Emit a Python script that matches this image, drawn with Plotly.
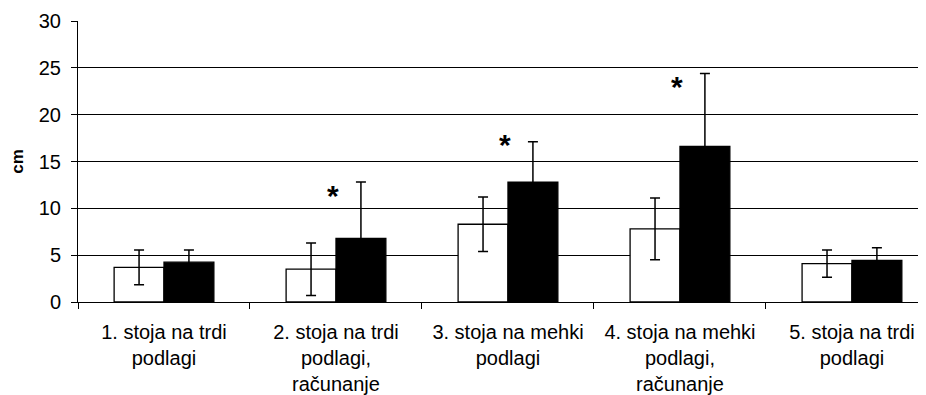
import plotly.graph_objects as go

categories = [
    "1. stoja na trdi<br>podlagi",
    "2. stoja na trdi<br>podlagi,<br>računanje",
    "3. stoja na mehki<br>podlagi",
    "4. stoja na mehki<br>podlagi,<br>računanje",
    "5. stoja na trdi<br>podlagi",
]
white_values = [3.7, 3.5, 8.3, 7.8, 4.1]
white_err = [1.85, 2.8, 2.9, 3.3, 1.45]
black_values = [4.25, 6.8, 12.8, 16.6, 4.45]
black_err = [1.3, 6.0, 4.3, 7.8, 1.35]
star_cats = [categories[1], categories[2], categories[3]]
star_y = [11.7, 17.1, 23.3]
y_ticks = [0, 5, 10, 15, 20, 25, 30]
grid_vals = [5, 10, 15, 20, 25]

font = "Liberation Sans, Arial, sans-serif"

fig = go.Figure()
fig.add_trace(go.Bar(
    x=categories, y=white_values,
    marker=dict(color="white", line=dict(color="black", width=1.3)),
    error_y=dict(type="data", array=white_err, visible=True,
                 color="black", thickness=1.5, width=5),
    showlegend=False,
))
fig.add_trace(go.Bar(
    x=categories, y=black_values,
    marker=dict(color="black", line=dict(color="black", width=1.3)),
    error_y=dict(type="data", array=black_err, visible=True,
                 color="black", thickness=1.5, width=5),
    showlegend=False,
))
for c, v in zip(star_cats, star_y):
    fig.add_annotation(
        x=c, y=v, text="<b>*</b>", showarrow=False,
        xanchor="center", yanchor="middle", xshift=-3, yshift=-3,
        font=dict(family=font, size=30, color="black"),
    )

fig.update_layout(
    width=926, height=387,
    margin=dict(l=70, r=0, t=13, b=93, autoexpand=False),
    paper_bgcolor="white", plot_bgcolor="white",
    barmode="group", bargap=0.42, bargroupgap=0,
    font=dict(family=font, size=18, color="black"),
    xaxis=dict(
        type="category", range=[-0.5, 4.477], automargin=False,
        showline=True, linecolor="black", linewidth=1,
        ticks="outside", tickson="boundaries", ticklen=6,
        tickcolor="black", tickwidth=1,
        showgrid=False, zeroline=False,
        ticklabelstandoff=12,
        tickfont=dict(size=20),
    ),
    yaxis=dict(
        range=[0, 30], tickvals=y_ticks, automargin=False,
        showline=True, linecolor="black", linewidth=1,
        ticks="outside", ticklen=6, tickcolor="black", tickwidth=1,
        showgrid=False, zeroline=False,
        ticklabelstandoff=6,
        tickfont=dict(size=20),
        title=dict(text="<b>cm</b>", font=dict(size=17), standoff=17),
        minor=dict(tickmode="array", tickvals=grid_vals, showgrid=True,
                   gridcolor="black", gridwidth=1, ticklen=0),
    ),
)

fig.write_html("out.html")
